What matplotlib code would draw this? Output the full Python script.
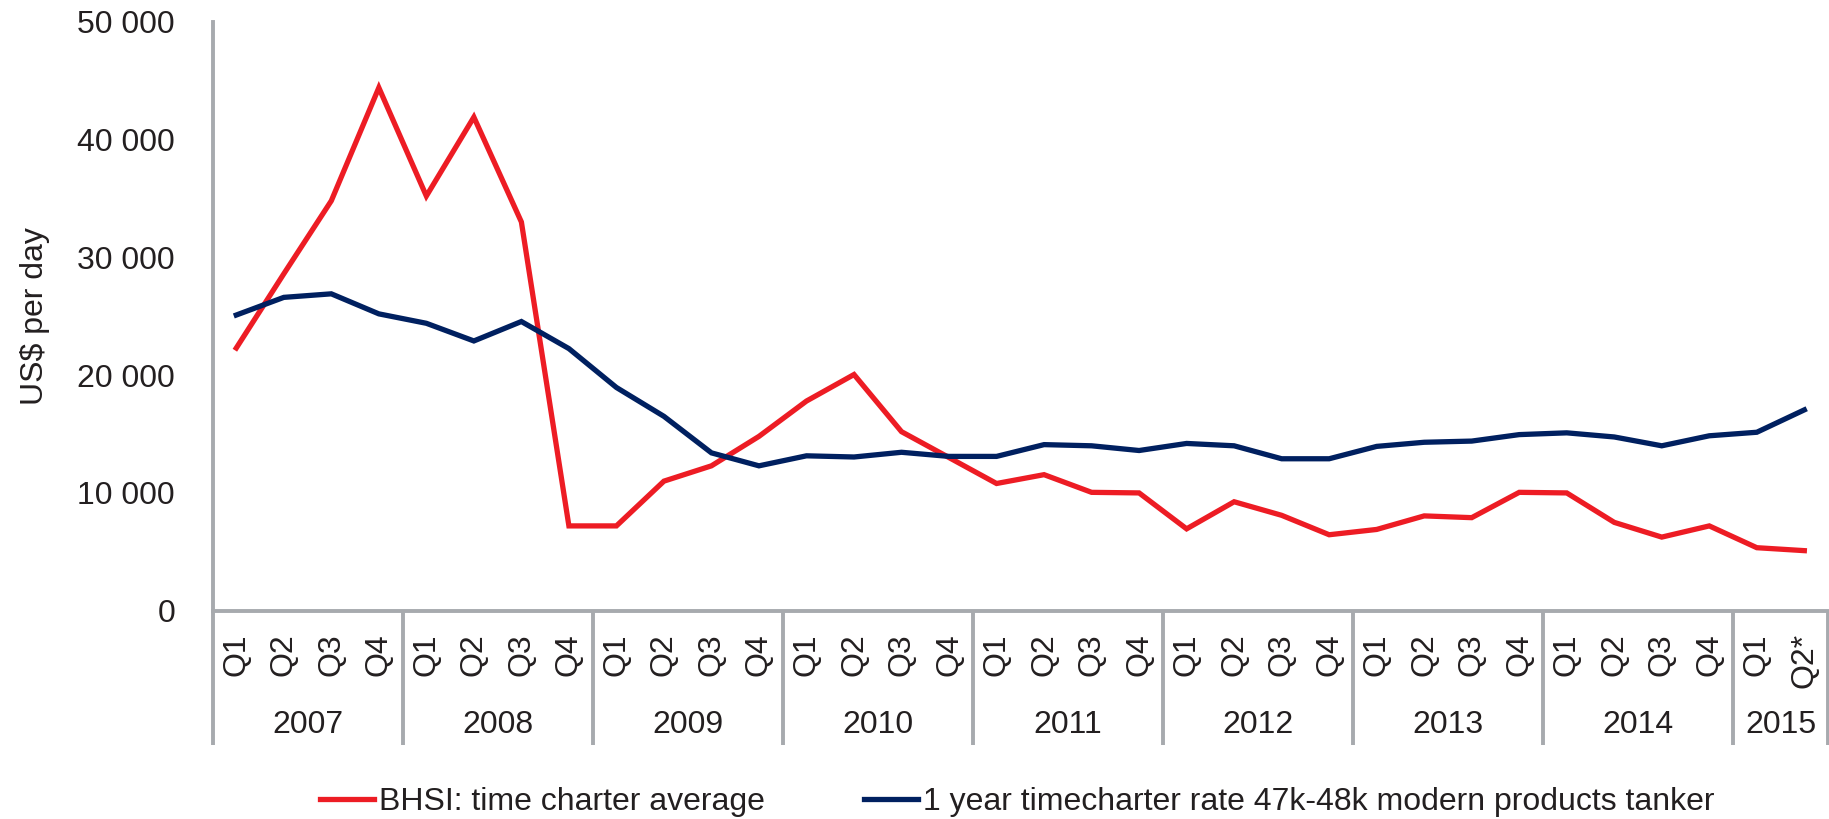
import numpy as np
import matplotlib
matplotlib.use("Agg")
import matplotlib.pyplot as plt
import matplotlib.transforms as mtransforms

plt.rcParams['font.family'] = ['Liberation Sans', 'DejaVu Sans']

# data
years = ['2007', '2008', '2009', '2010', '2011', '2012', '2013', '2014', '2015']
quarters_per_year = [4, 4, 4, 4, 4, 4, 4, 4, 2]
quarter_labels = ['Q1', 'Q2', 'Q3', 'Q4'] * 8 + ['Q1', 'Q2*']

bhsi = [22300, 28600, 34800, 44400, 35200, 41900, 33000, 7200,
        7200, 11000, 12300, 14800, 17800, 20050, 15200, 13000,
        10800, 11550, 10050, 10000, 6950, 9250, 8100, 6450,
        6900, 8050, 7900, 10050, 10000, 7500, 6250, 7200,
        5350, 5100]
tc_rate = [25100, 26600, 26900, 25200, 24400, 22900, 24550, 22250,
           18950, 16500, 13400, 12300, 13150, 13050, 13450, 13100,
           13100, 14100, 14000, 13600, 14200, 14000, 12900, 12900,
           13950, 14300, 14400, 14950, 15100, 14750, 14000, 14850,
           15150, 17050]

y_ticks = [0, 10000, 20000, 30000, 40000, 50000]
y_tick_labels = ['0', '10 000', '20 000', '30 000', '40 000', '50 000']

series_names = ['BHSI: time charter average',
                '1 year timecharter rate 47k-48k modern products tanker']

red = '#ED1C24'
navy = '#002060'
grey = '#A7AAAE'
txt = '#231F20'
fs = 23

fig = plt.figure(figsize=(18.29, 8.19), dpi=100)
ax = fig.add_axes([0.1162, 0.2543, 0.8833, 0.7192])

x = np.arange(len(bhsi))
ax.plot(x, bhsi, color=red, lw=3.8, label=series_names[0], solid_joinstyle='miter')
ax.plot(x, tc_rate, color=navy, lw=3.8, label=series_names[1], solid_joinstyle='miter')

ax.set_xlim(-0.5, len(bhsi) - 0.5)
ax.set_ylim(0, 50000)

ax.set_yticks(y_ticks)
ax.set_yticklabels(y_tick_labels)
ax.tick_params(axis='y', length=0, pad=27, labelsize=fs, labelcolor=txt)
ax.set_xticks(x)
ax.set_xticklabels(quarter_labels, rotation=90)
ax.tick_params(axis='x', length=0, pad=16, labelsize=fs, labelcolor=txt)
for lab in ax.get_xticklabels():
    lab.set_verticalalignment('top')

for s in ['top', 'right']:
    ax.spines[s].set_visible(False)
for s in ['left', 'bottom']:
    ax.spines[s].set_color(grey)
    ax.spines[s].set_linewidth(2.8)

ax.set_ylabel('US$ per day', fontsize=fs, color=txt, labelpad=12)
ax.yaxis.set_label_coords(-0.1003, 0.5)

# year group separators and labels
trans = mtransforms.blended_transform_factory(ax.transData, ax.transAxes)
sep_bottom = -0.228
bounds = np.concatenate([[0], np.cumsum(quarters_per_year)]) - 0.5
for b in bounds:
    ax.plot([b, b], [0, sep_bottom], color=grey, lw=2.8, transform=trans,
            clip_on=False, solid_capstyle='butt')
for i, yr in enumerate(years):
    ax.text((bounds[i] + bounds[i + 1]) / 2, -0.194, yr, transform=trans,
            ha='center', va='center', fontsize=fs, color=txt)

leg = fig.legend(loc='center', bbox_to_anchor=(0.5563, 0.0208), ncol=2,
                 frameon=False, fontsize=fs, handlelength=1.7,
                 handletextpad=0.15, columnspacing=3.1, borderpad=0)
for t in leg.get_texts():
    t.set_color(txt)

fig.savefig('out.png', dpi=100)
